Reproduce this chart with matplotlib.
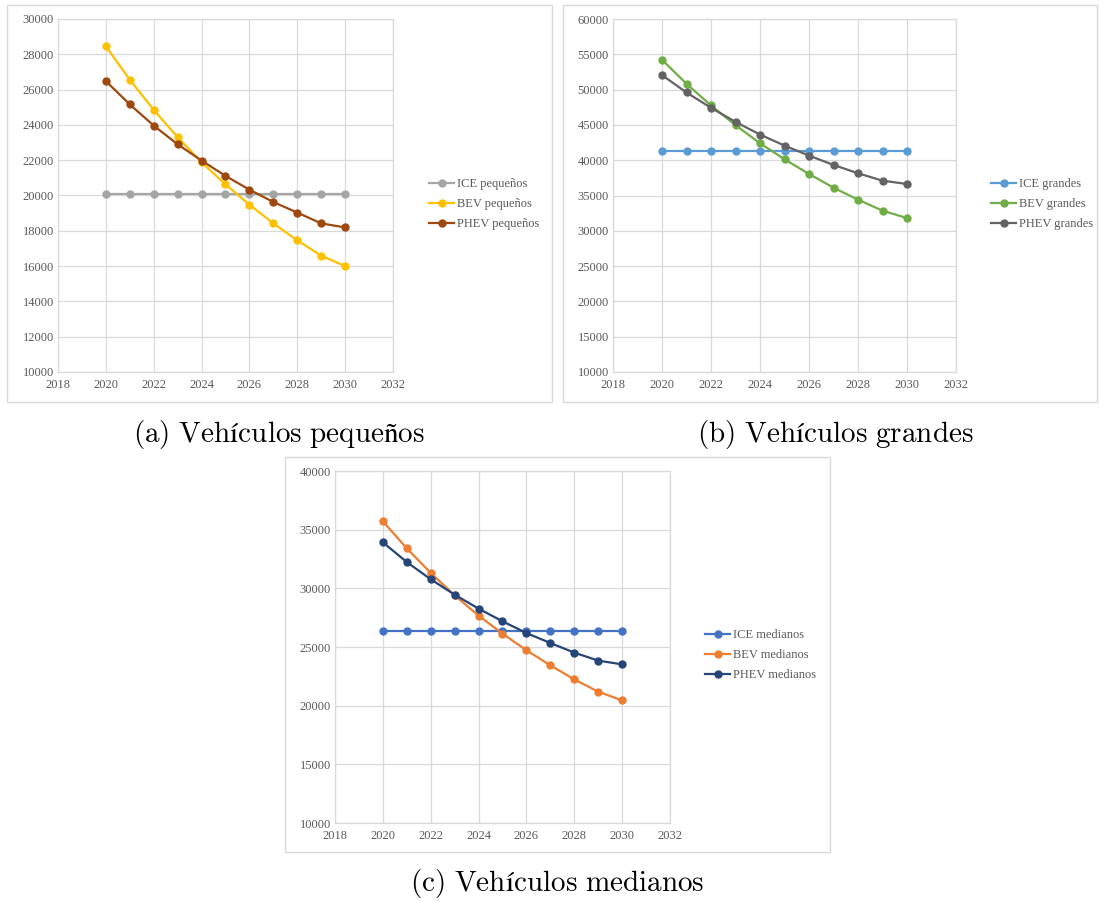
import matplotlib.pyplot as plt
from matplotlib.patches import Rectangle

plt.rcParams["mathtext.fontset"] = "cm"

W, H = 1100, 902

years = list(range(2020, 2031))

# Coste por tipo de vehículo (EUR)
ice_pequenos = [20100] * 11
bev_pequenos = [28450, 26560, 24850, 23300, 21880, 20630, 19480, 18420, 17460, 16590, 16000]
phev_pequenos = [26480, 25160, 23960, 22900, 21980, 21110, 20330, 19630, 19030, 18420, 18190]

ice_grandes = [41300] * 11
bev_grandes = [54230, 50820, 47750, 44960, 42400, 40130, 38050, 36110, 34410, 32850, 31810]
phev_grandes = [52050, 49590, 47420, 45430, 43630, 42070, 40650, 39330, 38150, 37100, 36630]

ice_medianos = [26350] * 11
bev_medianos = [35710, 33410, 31310, 29400, 27670, 26140, 24720, 23440, 22240, 21190, 20450]
phev_medianos = [33920, 32240, 30770, 29460, 28270, 27190, 26190, 25340, 24520, 23840, 23520]

x_ticks = list(range(2018, 2033, 2))

GRID = "#D9D9D9"
TXT = "#595959"
SERIF = ["Liberation Serif", "DejaVu Serif"]


def fig_rect(x0, y0, x1, y1):
    # pixel box (top-left origin) -> figure fraction [l, b, w, h]
    return [x0 / W, 1 - y1 / H, (x1 - x0) / W, (y1 - y0) / H]


def panel(fig, box, plot, ylim, ystep, series, legend_xy, caption, caption_xy):
    fig.patches.append(Rectangle((box[0] / W, 1 - box[3] / H),
                                 (box[2] - box[0]) / W, (box[3] - box[1]) / H,
                                 transform=fig.transFigure, fill=False,
                                 edgecolor=GRID, linewidth=1.0))
    ax = fig.add_axes(fig_rect(*plot))
    for label, values, color in series:
        ax.plot(years, values, color=color, linewidth=1.6, marker="o",
                markersize=5, label=label)
    ax.set_xlim(2018, 2032)
    ax.set_ylim(*ylim)
    ax.set_xticks(x_ticks)
    ax.set_yticks(range(ylim[0], ylim[1] + 1, ystep))
    ax.grid(True, color=GRID, linewidth=0.9)
    ax.set_axisbelow(True)
    for s in ax.spines.values():
        s.set_color(GRID)
        s.set_linewidth(0.9)
    ax.tick_params(length=0, labelsize=9, colors=TXT)
    ax.tick_params(axis="y", pad=3)
    ax.tick_params(axis="x", pad=5)
    for t in ax.get_xticklabels() + ax.get_yticklabels():
        t.set_family(SERIF)
    leg = ax.legend(loc="center left", bbox_transform=fig.transFigure,
                    bbox_to_anchor=(legend_xy[0] / W, 1 - legend_xy[1] / H),
                    frameon=False, handlelength=2.0, borderaxespad=0,
                    handletextpad=0.25, labelspacing=0.65,
                    prop={"family": SERIF, "size": 9})
    for t in leg.get_texts():
        t.set_color(TXT)
    # caption set in Computer Modern via mathtext
    fig.text(caption_xy[0] / W, 1 - caption_xy[1] / H,
             "$\\mathrm{" + caption.replace(" ", "\\ ") + "}$",
             ha="center", va="center", fontsize=21)
    return ax


fig = plt.figure(figsize=(W / 100, H / 100), dpi=100)

ax_a = panel(fig, (7, 5, 552, 402), (58, 19, 393, 372), (10000, 30000), 2000,
             [("ICE pequeños", ice_pequenos, "#A5A5A5"),
              ("BEV pequeños", bev_pequenos, "#FFC000"),
              ("PHEV pequeños", phev_pequenos, "#9E480E")],
             (424, 204), "(a) Vehículos pequeños", (279, 435))

ax_b = panel(fig, (563, 5, 1097, 402), (613, 19, 956, 372), (10000, 60000), 5000,
             [("ICE grandes", ice_grandes, "#5B9BD5"),
              ("BEV grandes", bev_grandes, "#70AD47"),
              ("PHEV grandes", phev_grandes, "#636363")],
             (986, 204), "(b) Vehículos grandes", (835, 435))

ax_c = panel(fig, (285, 457, 830, 852), (335, 471, 670, 823), (10000, 40000), 5000,
             [("ICE medianos", ice_medianos, "#4472C4"),
              ("BEV medianos", bev_medianos, "#ED7D31"),
              ("PHEV medianos", phev_medianos, "#264478")],
             (700, 655), "(c) Vehículos medianos", (557, 884))

fig.savefig("out.png", dpi=100)
